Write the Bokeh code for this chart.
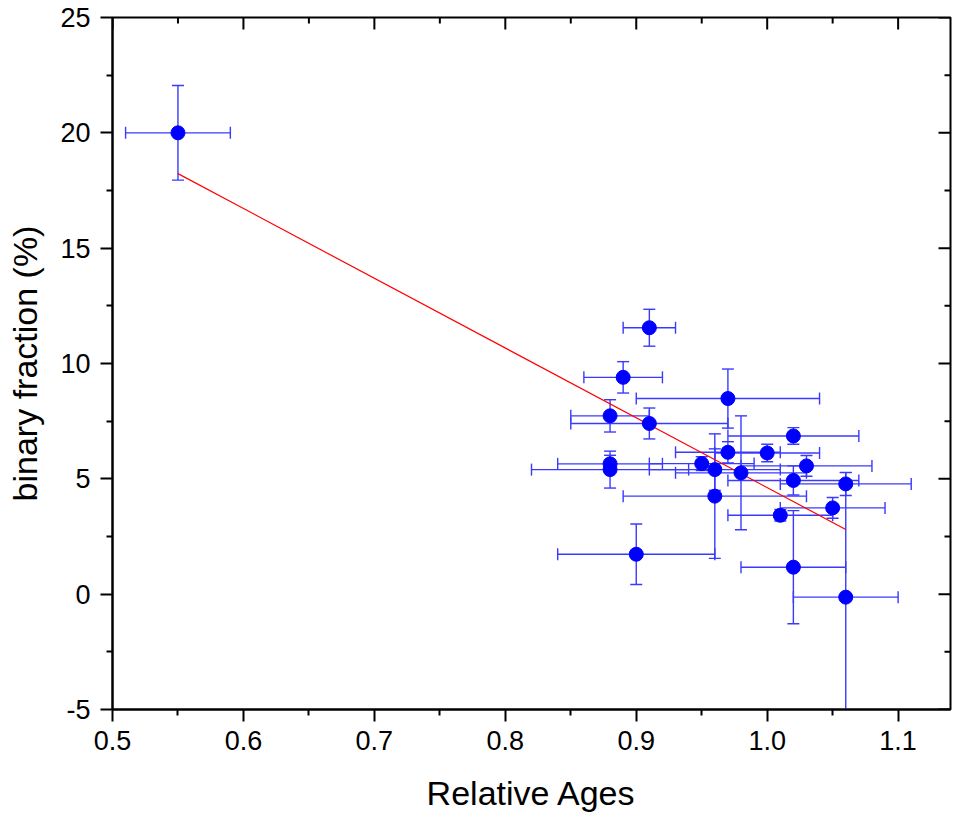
import numpy as np
from bokeh.plotting import figure
from bokeh.models import Range1d, LinearAxis, FixedTicker, ColumnDataSource
from bokeh.embed import file_html
from bokeh.resources import INLINE

# ---- data ----
age = [0.55, 0.91, 0.89, 0.97, 0.88, 0.91, 0.88, 0.88, 0.95, 0.96, 0.96,
       0.97, 0.98, 1.00, 1.02, 1.03, 1.02, 1.06, 1.05, 1.01, 1.02, 1.06, 0.90]
frac = [20.0, 11.55, 9.40, 8.48, 7.73, 7.40, 5.65, 5.40, 5.66, 5.40, 4.25,
        6.15, 5.26, 6.12, 6.86, 5.56, 4.93, 4.78, 3.74, 3.42, 1.17, -0.13, 1.73]
age_err = [0.04, 0.02, 0.03, 0.07, 0.03, 0.06, 0.04, 0.06, 0.04, 0.05, 0.07,
           0.04, 0.05, 0.04, 0.05, 0.05, 0.05, 0.05, 0.04, 0.04, 0.04, 0.04, 0.06]
frac_err = [2.05, 0.80, 0.68, 1.28, 0.70, 0.67, 0.37, 0.80, 0.30, 0.90, 2.70,
            0.46, 2.47, 0.38, 0.36, 0.45, 0.63, 0.50, 0.45, 0.25, 2.45, 5.40, 1.31]
fit_slope = -30.25
fit_intercept = 34.87

x_major = [0.5, 0.6, 0.7, 0.8, 0.9, 1.0, 1.1]
x_major_labels = ["0.5", "0.6", "0.7", "0.8", "0.9", "1.0", "1.1"]
x_minor = [0.55, 0.65, 0.75, 0.85, 0.95, 1.05]
y_major = [-5, 0, 5, 10, 15, 20, 25]
y_major_labels = ["-5", "0", "5", "10", "15", "20", "25"]
y_minor = [-2.5, 2.5, 7.5, 12.5, 17.5, 22.5]

x_label = "Relative Ages"
y_label = "binary fraction (%)"

# ---- derived columns ----
a = np.array(age)
f = np.array(frac)
ea = np.array(age_err)
ef = np.array(frac_err)
src = ColumnDataSource(dict(x=a, y=f, xl=a - ea, xh=a + ea, yl=f - ef, yh=f + ef))

FONT = "Liberation Sans"
BLUE = "#0000FF"
ERR = "#3A3AFF"

p = figure(frame_width=838, frame_height=692,
           x_range=Range1d(0.5, 1.14), y_range=Range1d(-5, 25),
           output_backend="svg", toolbar_location=None,
           x_axis_location=None, y_axis_location=None,
           min_border_left=112, min_border_top=17, min_border_right=4,
           min_border_bottom=100)
p.grid.visible = False
p.outline_line_color = "black"
p.outline_line_width = 2
p.background_fill_color = "white"
p.border_fill_color = "white"


def style(ax):
    ax.axis_line_width = 2
    ax.axis_line_color = "black"
    ax.major_tick_line_width = 2
    ax.minor_tick_line_width = 2
    ax.major_tick_line_color = "black"
    ax.minor_tick_line_color = "black"
    ax.major_tick_out = 12
    ax.major_tick_in = 0
    ax.minor_tick_out = 6
    ax.minor_tick_in = 0
    ax.major_label_text_font = FONT
    ax.major_label_text_font_size = "27px"
    ax.major_label_text_color = "black"
    ax.axis_label_text_font = FONT
    ax.axis_label_text_font_size = "34px"
    ax.axis_label_text_font_style = "normal"
    ax.axis_label_text_color = "black"


bottom = LinearAxis(ticker=FixedTicker(ticks=x_major, minor_ticks=x_minor),
                    axis_label=x_label)
style(bottom)
bottom.major_label_overrides = {t: s for t, s in zip(x_major, x_major_labels)}
bottom.major_label_standoff = 9
bottom.axis_label_standoff = 21
p.add_layout(bottom, "below")

left = LinearAxis(ticker=FixedTicker(ticks=y_major, minor_ticks=y_minor),
                  axis_label=y_label)
style(left)
left.major_label_overrides = {t: s for t, s in zip(y_major, y_major_labels)}
left.major_label_standoff = 10
left.axis_label_standoff = 13
p.add_layout(left, "left")

# inward ticks on the top and right edges (half of each dash is clipped by the frame)
x_top = p.y_range.end
x_right = p.x_range.end
p.scatter(x=x_major, y=[x_top] * len(x_major), marker="dash", angle=np.pi / 2,
          size=24, line_color="black", line_width=2)
p.scatter(x=x_minor, y=[x_top] * len(x_minor), marker="dash", angle=np.pi / 2,
          size=12, line_color="black", line_width=2)
p.scatter(x=[x_right] * len(y_major), y=y_major, marker="dash",
          size=24, line_color="black", line_width=2)
p.scatter(x=[x_right] * len(y_minor), y=y_minor, marker="dash",
          size=12, line_color="black", line_width=2)

# error bars
p.segment(x0="x", y0="yl", x1="x", y1="yh", source=src, line_color=ERR, line_width=1.4)
p.segment(x0="xl", y0="y", x1="xh", y1="y", source=src, line_color=ERR, line_width=1.4)
p.scatter(x="x", y="yl", source=src, marker="dash", size=12, line_color=ERR, line_width=1.4)
p.scatter(x="x", y="yh", source=src, marker="dash", size=12, line_color=ERR, line_width=1.4)
p.scatter(x="xl", y="y", source=src, marker="dash", size=12, angle=np.pi / 2,
          line_color=ERR, line_width=1.4)
p.scatter(x="xh", y="y", source=src, marker="dash", size=12, angle=np.pi / 2,
          line_color=ERR, line_width=1.4)

# linear fit
fx = np.array([a.min(), a.max()])
p.line(fx, fit_intercept + fit_slope * fx, line_color="#FF0000", line_width=1.2)

# points
p.scatter(x="x", y="y", source=src, marker="circle", size=14,
          fill_color=BLUE, line_color=BLUE)

open("out.html", "w").write(file_html(p, INLINE))
